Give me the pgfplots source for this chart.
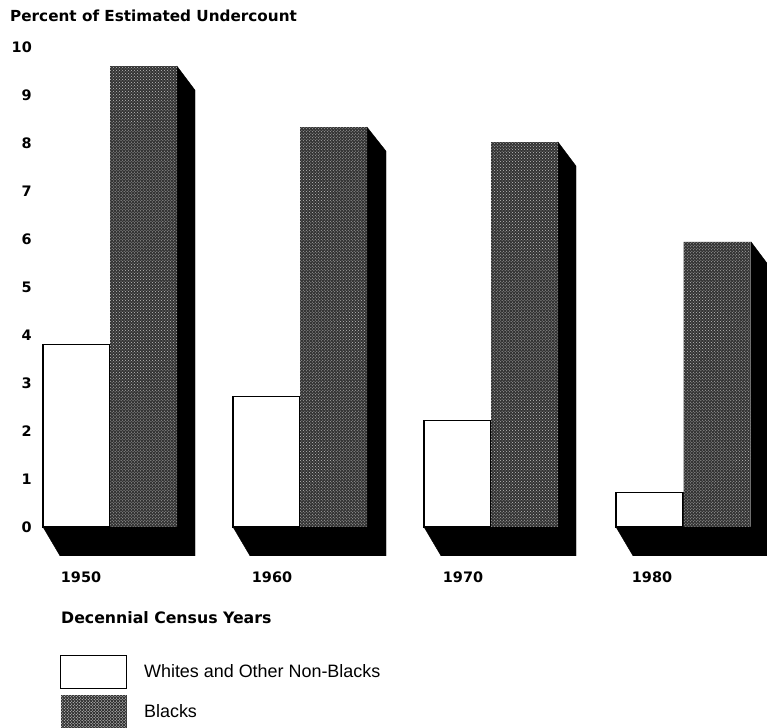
\documentclass[border=0pt]{standalone}
\usepackage{fontspec}
\setmainfont{Liberation Sans}
\newfontfamily\dv{DejaVu Sans}
\usepackage{pgfplots}
\pgfplotsset{compat=1.18}
\usetikzlibrary{patterns}
\definecolor{darkbar}{gray}{0.2}
\begin{document}
\begin{tikzpicture}
\path[use as bounding box] (0,0) rectangle (767bp,728bp);
\begin{axis}[
  at={(35bp,0)}, anchor=south west,
  scale only axis, width=732bp, height=728bp,
  xmin=35, xmax=767, ymin=-4.1875, ymax=10.979,
  clip=false,
  axis line style={draw=none},
  tick style={draw=none},
  xtick=\empty,
  ytick={0,1,...,10},
  /pgf/number format/assume math mode=true,
  yticklabel style={font=\dv\bfseries\fontsize{14.5}{16}\selectfont, inner sep=3bp},
  legend style={at={(0.0342,0.1003)}, anchor=north west, draw=none, fill=none,
    inner sep=0pt, outer sep=0pt, row sep=6bp, column sep=17bp,
    font=\fontsize{18}{20}\selectfont,
    nodes={inner sep=0pt, outer sep=0pt}},
  legend cell align=left,
]
% shadows (side face + floor)
\addplot[fill=black, draw=black, mark=none, forget plot] coordinates {(43,0)(60,-0.6)(195,-0.6)(195,9.1)(177,9.6)(177,0)} --cycle;
\addplot[fill=black, draw=black, mark=none, forget plot] coordinates {(233,0)(250,-0.6)(386,-0.6)(386,7.83)(367,8.33)(367,0)} --cycle;
\addplot[fill=black, draw=black, mark=none, forget plot] coordinates {(424,0)(441,-0.6)(576,-0.6)(576,7.52)(558,8.02)(558,0)} --cycle;
\addplot[fill=black, draw=black, mark=none, forget plot] coordinates {(616,0)(633,-0.6)(769,-0.6)(769,5.44)(751,5.94)(751,0)} --cycle;
% whites and other non-blacks
\addplot[ybar, bar width=67, bar shift=0, fill=white, draw=black, line width=1.1bp,
  legend image code/.code={\draw[fill=white, draw=black, line width=1.1bp] (0bp,-16.5bp) rectangle (66bp,16.5bp);}]
  coordinates {(76.5,3.81) (266.5,2.71) (457.5,2.21) (649.5,0.72)};
\addlegendentry{Whites and Other Non-Blacks}
% blacks
\addplot[ybar, bar width=67, bar shift=0, fill=darkbar, draw=none,
  postaction={pattern=crosshatch dots, pattern color=white!75!black},
  legend image code/.code={\draw[fill=darkbar, draw=none, postaction={pattern=crosshatch dots, pattern color=white!75!black}] (0bp,-16.5bp) rectangle (66bp,16.5bp);}]
  coordinates {(143.5,9.6) (333.5,8.33) (524.5,8.02) (717,5.94)};
\addlegendentry{Blacks}
% texts
\node[anchor=base west, font=\dv\bfseries\fontsize{15.3}{18}\selectfont, inner sep=0pt] at (axis cs:10,10.54) {Percent of Estimated Undercount};
\node[anchor=base, font=\dv\bfseries\fontsize{14.5}{17}\selectfont, inner sep=0pt] at (axis cs:81,-1.146) {1950};
\node[anchor=base, font=\dv\bfseries\fontsize{14.5}{17}\selectfont, inner sep=0pt] at (axis cs:272,-1.146) {1960};
\node[anchor=base, font=\dv\bfseries\fontsize{14.5}{17}\selectfont, inner sep=0pt] at (axis cs:463,-1.146) {1970};
\node[anchor=base, font=\dv\bfseries\fontsize{14.5}{17}\selectfont, inner sep=0pt] at (axis cs:652,-1.146) {1980};
\node[anchor=base west, font=\dv\bfseries\fontsize{15.8}{18}\selectfont, inner sep=0pt] at (axis cs:61,-2.02) {Decennial Census Years};
\end{axis}
\end{tikzpicture}
\end{document}
